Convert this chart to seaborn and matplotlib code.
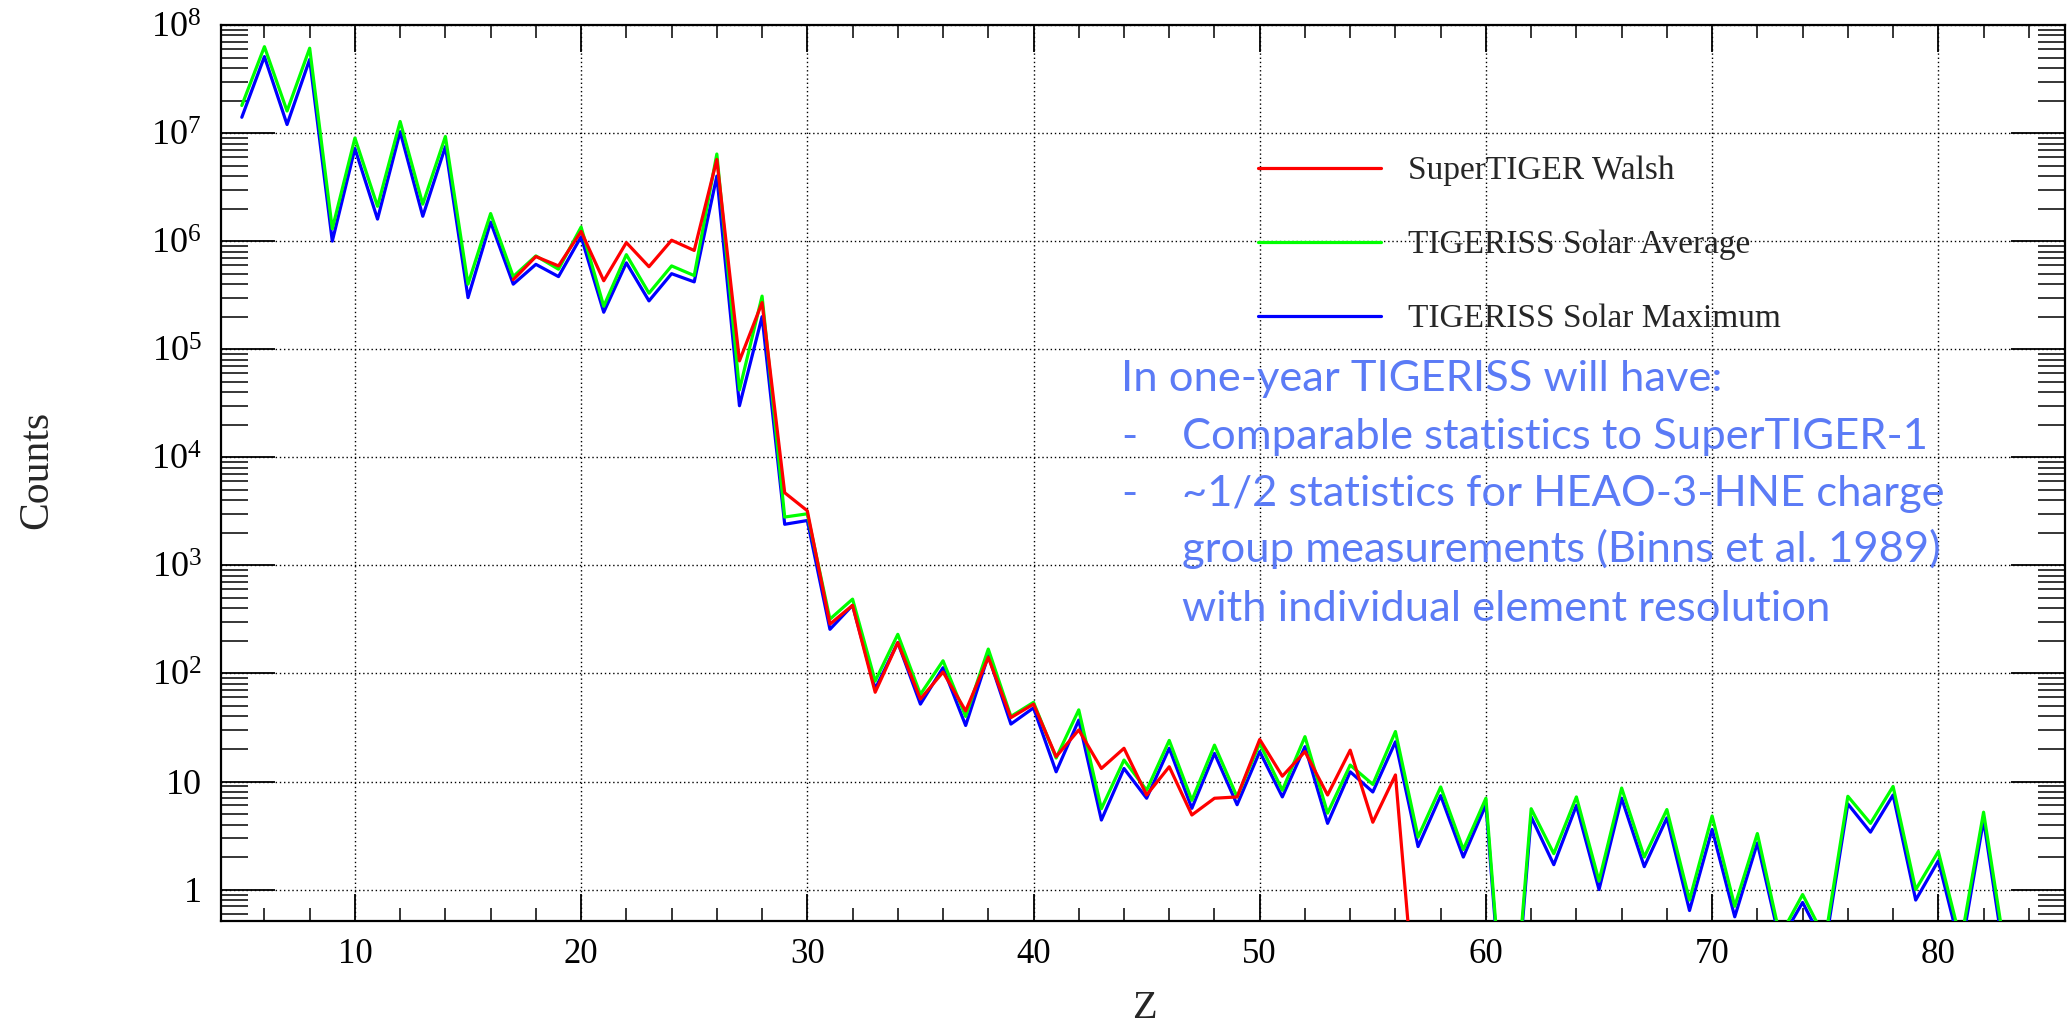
import numpy as np
import pandas as pd
import matplotlib
matplotlib.use("Agg")
import matplotlib.pyplot as plt
import seaborn as sns
from matplotlib.ticker import FixedLocator, FuncFormatter, NullFormatter
from matplotlib.lines import Line2D

# ---------------- data ----------------
z_tigeriss = list(range(5, 84))
solar_average = [
    1.8e7, 6.3e7, 1.6e7, 6.1e7, 1.3e6, 9.0e6, 2.1e6, 1.28e7, 2.2e6, 9.3e6,   # 5-14
    4.0e5, 1.8e6, 4.7e5, 7.3e5, 5.5e5, 1.35e6, 2.5e5, 7.5e5, 3.3e5, 5.9e5,    # 15-24
    4.8e5, 6.4e6, 4.2e4, 3.1e5, 2.8e3, 3.0e3, 318, 487, 85, 230,              # 25-34
    64, 131, 40, 168, 40, 54, 16.5, 46, 5.6, 15.8,                            # 35-44
    8.3, 24, 6.7, 21.7, 7.2, 22.5, 8.3, 26, 5.1, 14.2,                        # 45-54
    9.4, 29, 3.06, 8.9, 2.35, 7.0, 0.015, 5.6, 2.15, 7.2,                     # 55-64
    1.2, 8.7, 2.0, 5.5, 0.8, 4.8, 0.7, 3.3, 0.37, 0.9,                        # 65-74
    0.35, 7.3, 4.1, 9.0, 1.0, 2.25, 0.33, 5.2, 0.23,                          # 75-83
]
solar_maximum = [
    1.4e7, 5.1e7, 1.2e7, 4.8e7, 1.0e6, 7.2e6, 1.6e6, 1.03e7, 1.7e6, 7.5e6,
    3.0e5, 1.5e6, 4.0e5, 6.1e5, 4.7e5, 1.1e6, 2.2e5, 6.3e5, 2.8e5, 5.0e5,
    4.2e5, 4.0e6, 3.0e4, 2.0e5, 2.4e3, 2.6e3, 256, 427, 72, 193,
    52, 113, 33, 146, 34, 48, 12.3, 37, 4.4, 13.2,
    7.0, 20.3, 5.65, 18.2, 6.1, 18.9, 7.2, 21, 4.1, 12.3,
    8.0, 23.3, 2.5, 7.4, 2.0, 6.1, 0.013, 4.7, 1.7, 6.0,
    1.0, 7.0, 1.63, 4.6, 0.64, 3.6, 0.56, 2.7, 0.33, 0.76,
    0.3, 6.2, 3.4, 7.5, 0.8, 1.85, 0.27, 4.4, 0.18,
]
z_walsh = list(range(17, 58))
walsh = [
    4.4e5, 7.2e5, 5.9e5, 1.23e6, 4.3e5, 9.7e5, 5.8e5, 1.02e6, 8.2e5, 5.7e6,  # 17-26
    7.8e4, 2.7e5, 4.7e3, 3.2e3, 286, 427, 67, 193, 58, 103,                  # 27-36
    45, 141, 39, 52, 17, 30, 13.2, 20.3, 7.5, 13.7,                          # 37-46
    4.9, 7.0, 7.2, 24.5, 11.2, 18.9, 7.5, 19.5, 4.2, 11.5,                   # 47-56
    0.04,                                                                    # 57
]
series_names = ["SuperTIGER Walsh", "TIGERISS Solar Average", "TIGERISS Solar Maximum"]
series_colors = ["#ff0000", "#00ff00", "#0000ff"]

x_major_ticks = [10, 20, 30, 40, 50, 60, 70, 80]
y_decades = [0, 1, 2, 3, 4, 5, 6, 7, 8]

annotation_lines = [
    "In one-year TIGERISS will have:",
    "Comparable statistics to SuperTIGER-1",
    "~1/2 statistics for HEAO-3-HNE charge",
    "group measurements (Binns et al. 1989)",
    "with individual element resolution",
]

df = pd.concat([
    pd.DataFrame({"Z": z_walsh, "Counts": walsh, "series": series_names[0]}),
    pd.DataFrame({"Z": z_tigeriss, "Counts": solar_average, "series": series_names[1]}),
    pd.DataFrame({"Z": z_tigeriss, "Counts": solar_maximum, "series": series_names[2]}),
], ignore_index=True)
palette = dict(zip(series_names, series_colors))

# ---------------- style ----------------
sns.set_style("white")
plt.rcParams["font.family"] = ["Liberation Serif", "DejaVu Serif"]
plt.rcParams["mathtext.fontset"] = "custom"
plt.rcParams["mathtext.rm"] = "Liberation Serif"
plt.rcParams["mathtext.it"] = "Liberation Serif:italic"
plt.rcParams["mathtext.bf"] = "Liberation Serif:bold"

W, H = 2067, 1028
fig = plt.figure(figsize=(W / 100, H / 100), dpi=100)
fig.patch.set_facecolor("white")
L, R, T, B = 221, 2065, 25, 921
ax = fig.add_axes([L / W, 1 - B / H, (R - L) / W, (B - T) / H])
ax.set_yscale("log")

# draw order: blue, green, red on top
for name in [series_names[2], series_names[1], series_names[0]]:
    sns.lineplot(data=df[df["series"] == name], x="Z", y="Counts",
                 color=palette[name], lw=2.3, estimator=None, sort=False,
                 legend=False, ax=ax, zorder=3)

ax.set_xlim(4.08, 85.6)
ax.set_ylim(0.512, 1e8)

# ticks (explicit, only inside the visible range)
x_minor = [v for v in range(6, 86, 2) if v % 10 != 0]
y_major = [10.0 ** e for e in y_decades]
y_minor = [m * 10.0 ** e for e in [-1] + y_decades[:-1] for m in range(2, 10)
           if 0.512 <= m * 10.0 ** e <= 1e8]
ax.xaxis.set_major_locator(FixedLocator(x_major_ticks))
ax.xaxis.set_minor_locator(FixedLocator(x_minor))
ax.xaxis.set_minor_formatter(NullFormatter())
ax.yaxis.set_major_locator(FixedLocator(y_major))
ax.yaxis.set_minor_locator(FixedLocator(y_minor))
ax.yaxis.set_minor_formatter(NullFormatter())


def ylab(v, pos):
    e = int(round(np.log10(v)))
    if e == 0:
        return "1"
    if e == 1:
        return "10"
    return r"$\mathregular{10^{%d}}$" % e


ax.yaxis.set_major_formatter(FuncFormatter(ylab))
ax.tick_params(axis="x", which="major", direction="in", length=19.4, width=1.3,
               top=True, bottom=True, labelsize=25, pad=12, colors="black")
ax.tick_params(axis="x", which="minor", direction="in", length=9.4, width=1.3,
               top=True, bottom=True)
ax.tick_params(axis="y", which="major", direction="in", length=38.9, width=1.3,
               left=True, right=True, labelsize=26, pad=14, colors="black")
ax.tick_params(axis="y", which="minor", direction="in", length=19.4, width=1.3,
               left=True, right=True)

ax.grid(True, which="major", color="black", linestyle=(0, (1, 2)), linewidth=1.0)
ax.grid(False, which="minor")
for s in ax.spines.values():
    s.set_linewidth(1.6)
    s.set_color("black")

ax.set_xlabel("Z", fontsize=29)
ax.set_ylabel("Counts", fontsize=30)
ax.xaxis.set_label_coords(0.5005, (H - 1009 - (H - B)) / (B - T))
ax.xaxis.label.set_verticalalignment("center")
ax.yaxis.set_label_coords((37 - L) / (R - L), (H - 470 - (H - B)) / (B - T))
ax.yaxis.label.set_verticalalignment("center")

# legend
handles = [Line2D([0], [0], color=c, lw=2.3) for c in series_colors]
leg_fs = 24
ax.legend(handles, series_names, loc="upper left",
          bbox_to_anchor=(1258 / W, 1 - 156 / H), bbox_transform=fig.transFigure,
          frameon=False, fontsize=leg_fs, handlelength=3.69, handletextpad=0.81,
          labelspacing=1.3, borderpad=0, borderaxespad=0)

# annotation (blue slide text)
ann_color = "#5b7bf6"
ann_family = ["Lato", "DejaVu Sans"]
base_fs = 30
x_first, x_bullet, x_dash = 1121, 1182, 1121
baselines = [391, 449, 506, 562, 621]
targets = [596, 740, 734, 773, 665]
texts = []
for i, line in enumerate(annotation_lines):
    x = x_first if i == 0 else x_bullet
    t = fig.text(x / W, 1 - baselines[i] / H, line, fontsize=base_fs, color=ann_color,
                 family=ann_family, va="baseline", ha="left")
    texts.append(t)
for i in (1, 2):
    fig.text(x_dash / W, 1 - baselines[i] / H, "-", fontsize=base_fs, color=ann_color,
             family=ann_family, va="baseline", ha="left")
renderer = fig.canvas.get_renderer()
ratios = [tg / t.get_window_extent(renderer).width for t, tg in zip(texts, targets)]
scale = float(np.mean(ratios))
for t in fig.texts:
    t.set_fontsize(base_fs * scale)

fig.savefig("out.png", dpi=100, facecolor="white")
